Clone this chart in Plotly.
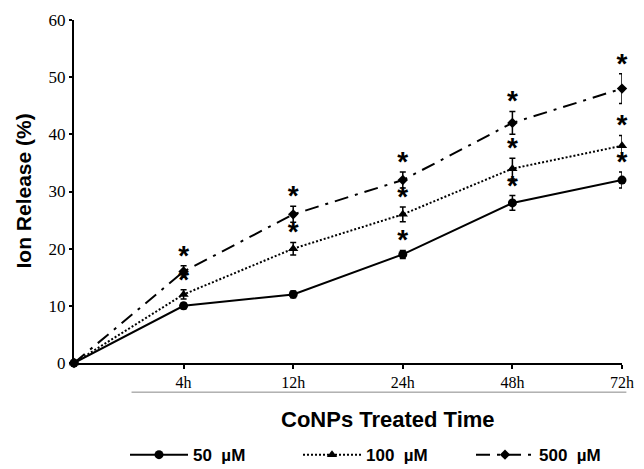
import plotly.graph_objects as go

# ---- data ----
time_labels = ["0", "4h", "12h", "24h", "48h", "72h"]
x_pos = [0, 1, 2, 3, 4, 5]
series_names = ["50\u00a0\u00a0µM", "100\u00a0\u00a0µM", "500\u00a0\u00a0µM"]
vals_50 = [0, 10, 12, 19, 28, 32]
err_50 = [0, 0.5, 0.6, 0.7, 1.3, 1.4]
vals_100 = [0, 12, 20, 26, 34, 38]
err_100 = [0, 0.8, 1.1, 1.3, 1.8, 1.8]
vals_500 = [0, 16, 26, 32, 42, 48]
err_500 = [0, 1.0, 1.4, 1.4, 2.0, 2.6]
# significance flags (asterisk) per point
sig_50 = [False, False, False, True, True, True]
sig_100 = [False, True, True, True, True, True]
sig_500 = [False, True, True, True, True, True]

tick_vals = [1, 2, 3, 4, 5]
tick_text = ["4h", "12h", "24h", "48h", "72h"]

fig = go.Figure()

styles = [
    (vals_50, err_50, "solid", "circle", 9),
    (vals_100, err_100, "2px,2px", "triangle-up", 9),
    (vals_500, err_500, "14px,7px,3px,7px", "diamond", 8),
]

for name, (v, e, dash, sym, msize) in zip(series_names, styles):
    fig.add_trace(go.Scatter(
        x=x_pos, y=v, name="<b>" + name + "</b>", mode="lines+markers",
        line=dict(color="black", width=2, dash=dash),
        marker=dict(symbol=sym, size=msize, color="black"),
        error_y=dict(type="data", array=e, visible=True, color="black",
                     thickness=1.5, width=3),
        cliponaxis=False,
    ))

# asterisks
for v, e, s in [(vals_50, err_50, sig_50), (vals_100, err_100, sig_100), (vals_500, err_500, sig_500)]:
    xs = [x for x, f in zip(x_pos, s) if f]
    ys = [vv + ee + 1.4 for vv, ee, f in zip(v, e, s) if f]
    fig.add_trace(go.Scatter(
        x=xs, y=ys, mode="text", text=["<b>*</b>"] * len(xs),
        textposition="middle center",
        textfont=dict(family="Liberation Sans", size=28, color="black"),
        showlegend=False, hoverinfo="skip", cliponaxis=False,
    ))

fig.update_layout(
    width=644, height=469,
    margin=dict(l=74, r=10, t=20, b=106),
    plot_bgcolor="white", paper_bgcolor="white",
    showlegend=True,
    legend=dict(orientation="h", x=0.605, xanchor="center",
                yref="container", y=0.068, yanchor="top",
                font=dict(family="Liberation Sans", size=17, color="black"),
                itemwidth=58, entrywidth=100, bgcolor="rgba(0,0,0,0)"),
    xaxis=dict(range=[0, 5], tickvals=tick_vals, ticktext=tick_text,
               showgrid=False, zeroline=False, showline=True, linecolor="black", linewidth=2,
               ticks="outside", ticklen=4, tickwidth=1.5, tickcolor="black",
               ticklabeloverflow="allow",
               tickfont=dict(family="Liberation Serif", size=16, color="black")),
    yaxis=dict(range=[0, 60], dtick=10, showgrid=False, zeroline=False,
               showline=True, linecolor="black", linewidth=2,
               ticks="outside", ticklen=3, tickwidth=1.5, tickcolor="black",
               tickfont=dict(family="Liberation Serif", size=17, color="black")),
    shapes=[dict(type="line", xref="paper", yref="paper", x0=0.105, x1=1.008,
                 y0=-0.085, y1=-0.085, line=dict(color="#888888", width=1))],
    annotations=[
        dict(text="<b>CoNPs Treated Time</b>", xref="paper", yref="paper",
             x=0.573, y=-0.165, xanchor="center", yanchor="middle", showarrow=False,
             font=dict(family="Liberation Sans", size=22, color="black")),
        dict(text="<b>Ion Release (%)</b>", xref="paper", yref="paper",
             x=-0.093, y=0.5, xanchor="center", yanchor="middle", showarrow=False,
             textangle=-90, font=dict(family="Liberation Sans", size=21, color="black")),
    ],
)

fig.write_html("out.html", config={"displayModeBar": False},
               post_script="document.body.style.margin='0';document.body.style.overflow='hidden';")
